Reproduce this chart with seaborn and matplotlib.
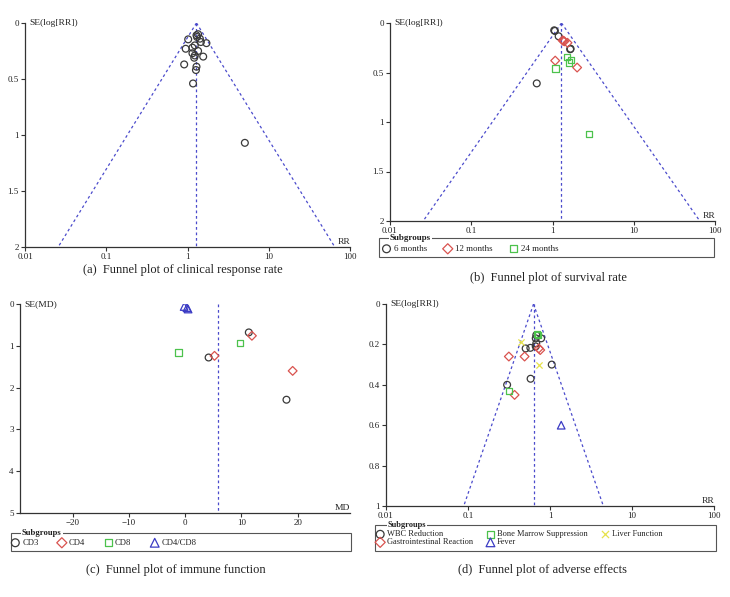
import matplotlib
matplotlib.use("Agg")
import matplotlib.pyplot as plt
import seaborn as sns
import numpy as np
from matplotlib.patches import Rectangle

# ---------------- data ----------------
# (a) clinical response rate
a_rr = [1.02, 1.29, 1.31, 1.35, 1.42, 1.46, 1.71, 0.95, 1.15, 1.23, 1.35, 1.15,
        1.23, 1.21, 1.56, 0.91, 1.29, 1.27, 1.17, 5.08]
a_se = [0.146, 0.11, 0.125, 0.10, 0.14, 0.17, 0.18, 0.23, 0.22, 0.20, 0.25, 0.27,
        0.29, 0.31, 0.30, 0.37, 0.39, 0.42, 0.54, 1.07]
a_pooled = 1.29

# (b) survival rate
b_labels = ["6 months", "12 months", "24 months"]
b_6_rr = [1.05, 1.07, 1.19, 1.67, 1.65, 0.64]
b_6_se = [0.074, 0.08, 0.134, 0.26, 0.265, 0.61]
b_12_rr = [1.33, 1.36, 1.40, 1.53, 1.08, 2.01]
b_12_se = [0.175, 0.18, 0.185, 0.20, 0.38, 0.45]
b_24_rr = [1.52, 1.68, 1.60, 1.09, 2.80]
b_24_se = [0.34, 0.37, 0.40, 0.46, 1.12]
b_pooled = 1.29

# (c) immune function
c_labels = ["CD3", "CD4", "CD8", "CD4/CD8"]
c_cd3_md = [4.15, 11.3, 18.0]
c_cd3_se = [1.28, 0.68, 2.29]
c_cd4_md = [5.2, 11.85, 19.1]
c_cd4_se = [1.24, 0.76, 1.60]
c_cd8_md = [-1.2, 9.7]
c_cd8_se = [1.16, 0.94]
c_ratio_md = [-0.2, 0.3, 0.5]
c_ratio_se = [0.06, 0.09, 0.12]
c_pooled = 5.9

# (d) adverse effects
d_labels = ["WBC Reduction", "Gastrointestinal Reaction", "Bone Marrow Suppression",
            "Fever", "Liver Function"]
d_wbc_rr = [0.68, 0.78, 0.67, 0.68, 0.505, 0.576, 0.67, 1.05, 0.58, 0.30]
d_wbc_se = [0.154, 0.17, 0.17, 0.195, 0.22, 0.217, 0.21, 0.30, 0.37, 0.40]
d_gi_rr = [0.73, 0.76, 0.315, 0.49, 0.37]
d_gi_se = [0.22, 0.228, 0.26, 0.26, 0.45]
d_bms_rr = [0.69, 0.71, 0.315]
d_bms_se = [0.148, 0.155, 0.43]
d_fever_rr = [1.37]
d_fever_se = [0.60]
d_liver_rr = [0.44, 0.73]
d_liver_se = [0.187, 0.30]
d_pooled = 0.63

log_ticks = [0.01, 0.1, 1, 10, 100]
log_ticklabels = ["0.01", "0.1", "1", "10", "100"]
a_yticks = [0, 0.5, 1, 1.5, 2]
a_yticklabels = ["0", "0.5", "1", "1.5", "2"]
c_xticks = [-20, -10, 0, 10, 20]
c_xticklabels = ["\u221220", "\u221210", "0", "10", "20"]
c_yticks = [0, 1, 2, 3, 4, 5]
c_yticklabels = ["0", "1", "2", "3", "4", "5"]
d_yticks = [0, 0.2, 0.4, 0.6, 0.8, 1]
d_yticklabels = ["0", "0.2", "0.4", "0.6", "0.8", "1"]

# ---------------- style ----------------
sns.set_style("ticks")
plt.rcParams["font.family"] = ["Liberation Serif", "DejaVu Serif"]

W, H = 730, 597
fig = plt.figure(figsize=(W / 100, H / 100), dpi=100)


def fx(x):
    return x / W


def fy(y):
    return 1 - y / H


def make_ax(l, t, r, b):
    return fig.add_axes([fx(l), fy(b), fx(r) - fx(l), fy(t) - fy(b)])


BLACK = "#3a3a3a"
RED = "#d9534f"
GREEN = "#4cc24c"
BLUE = "#3b3bc4"
YELLOW = "#e6e24a"
LINE = "#4b4bcc"
DASH = (0, (2.2, 2.2))


def style_ax(ax, ylabel, xlabel, fs=6.5):
    sns.despine(ax=ax)
    for s in ["left", "bottom"]:
        ax.spines[s].set_color("#333333")
        ax.spines[s].set_linewidth(0.9)
    ax.tick_params(axis="both", length=3, width=0.8, color="#333333",
                   labelsize=fs, pad=1.5, colors="#222222")
    ax.text(0.012, 1.0, ylabel, transform=ax.transAxes, ha="left", va="center",
            fontsize=fs + 0.3, color="#222222")
    ax.text(1.0, 0.004, xlabel, transform=ax.transAxes, ha="right", va="bottom",
            fontsize=fs + 0.3, color="#222222")


def scatter(ax, x, y, marker, color, label, s=24):
    if marker == "x":
        sns.scatterplot(x=x, y=y, ax=ax, marker=marker, s=s, color=color,
                        linewidth=0.9, legend=False, label=label, zorder=3)
    else:
        sns.scatterplot(x=x, y=y, ax=ax, marker=marker, s=s, facecolor="none",
                        edgecolor=color, linewidth=0.9, legend=False,
                        label=label, zorder=3)


def funnel_lines(ax, pooled, semax):
    se = np.array([0.0, semax])
    lo = np.exp(np.log(pooled) - 1.96 * se)
    hi = np.exp(np.log(pooled) + 1.96 * se)
    ax.plot(lo, se, color=LINE, lw=0.9, ls=DASH, zorder=2)
    ax.plot(hi, se, color=LINE, lw=0.9, ls=DASH, zorder=2)
    ax.plot([pooled, pooled], se, color=LINE, lw=0.9, ls=DASH, zorder=2)


def legend_box(ax, l, t, r, b, title_x, entry_x, entry_y, ncol, fs,
               colsp=1.8):
    fig.patches.append(Rectangle((fx(l), fy(b)), fx(r) - fx(l), fy(t) - fy(b),
                                 transform=fig.transFigure, fill=False,
                                 edgecolor="#555555", lw=0.8))
    fig.text(fx(title_x), fy(t), "Subgroups", ha="left", va="center",
             fontsize=fs, fontweight="bold", color="#222222",
             bbox=dict(facecolor="white", edgecolor="none", pad=0.6))
    handles, labels = ax.get_legend_handles_labels()
    leg = fig.legend(handles, labels, loc="center left",
                     bbox_to_anchor=(fx(entry_x), fy(entry_y)), ncol=ncol,
                     frameon=False, fontsize=fs, handletextpad=0.3,
                     columnspacing=colsp, borderaxespad=0, borderpad=0,
                     handlelength=1.0, labelspacing=0.0, markerscale=1.15)
    for t_ in leg.get_texts():
        t_.set_color("#222222")


# ---------------- (a) ----------------
axa = make_ax(25, 23, 350, 247)
scatter(axa, a_rr, a_se, "o", BLACK, None)
funnel_lines(axa, a_pooled, 2.0)
axa.set_xscale("log")
axa.set_xlim(0.01, 100)
axa.set_ylim(2, 0)
axa.set_xticks(log_ticks, log_ticklabels)
axa.set_yticks(a_yticks, a_yticklabels)
axa.minorticks_off()
style_ax(axa, "SE(log[RR])", "RR")
fig.text(fx(183), fy(270), "(a)  Funnel plot of clinical response rate",
         ha="center", va="center", fontsize=9, color="#222222")

# ---------------- (b) ----------------
axb = make_ax(390, 23, 715, 221)
scatter(axb, b_6_rr, b_6_se, "o", BLACK, b_labels[0])
scatter(axb, b_12_rr, b_12_se, "D", RED, b_labels[1], s=20)
scatter(axb, b_24_rr, b_24_se, "s", GREEN, b_labels[2], s=20)
funnel_lines(axb, b_pooled, 2.0)
axb.set_xscale("log")
axb.set_xlim(0.01, 100)
axb.set_ylim(2, 0)
axb.set_xticks(log_ticks, log_ticklabels)
axb.set_yticks(a_yticks, a_yticklabels)
axb.minorticks_off()
style_ax(axb, "SE(log[RR])", "RR")
legend_box(axb, 379, 238, 714, 257, 390, 382, 249, 3, 6.5)
fig.text(fx(548), fy(278), "(b)  Funnel plot of survival rate",
         ha="center", va="center", fontsize=9, color="#222222")

# ---------------- (c) ----------------
axc = make_ax(20, 304, 350, 513)
scatter(axc, c_cd3_md, c_cd3_se, "o", BLACK, c_labels[0])
scatter(axc, c_cd4_md, c_cd4_se, "D", RED, c_labels[1], s=20)
scatter(axc, c_cd8_md, c_cd8_se, "s", GREEN, c_labels[2], s=20)
scatter(axc, c_ratio_md, c_ratio_se, "^", BLUE, c_labels[3], s=30)
axc.plot([c_pooled, c_pooled], [0, 5], color=LINE, lw=0.9, ls=DASH, zorder=2)
axc.set_xlim(-29.4, 29.3)
axc.set_ylim(5, 0)
axc.set_xticks(c_xticks, c_xticklabels)
axc.set_yticks(c_yticks, c_yticklabels)
style_ax(axc, "SE(MD)", "MD")
legend_box(axc, 11, 533, 351, 551, 22, 11, 543, 4, 6.2, colsp=2.2)
fig.text(fx(176), fy(570), "(c)  Funnel plot of immune function",
         ha="center", va="center", fontsize=9, color="#222222")

# ---------------- (d) ----------------
axd = make_ax(386, 304, 714, 506)
scatter(axd, d_wbc_rr, d_wbc_se, "o", BLACK, d_labels[0])
scatter(axd, d_gi_rr, d_gi_se, "D", RED, d_labels[1], s=20)
scatter(axd, d_bms_rr, d_bms_se, "s", GREEN, d_labels[2], s=20)
scatter(axd, d_fever_rr, d_fever_se, "^", BLUE, d_labels[3], s=30)
scatter(axd, d_liver_rr, d_liver_se, "x", YELLOW, d_labels[4], s=20)
funnel_lines(axd, d_pooled, 1.0)
axd.set_xscale("log")
axd.set_xlim(0.01, 100)
axd.set_ylim(1, 0)
axd.set_xticks(log_ticks, log_ticklabels)
axd.set_yticks(d_yticks, d_yticklabels)
axd.minorticks_off()
style_ax(axd, "SE(log[RR])", "RR")
legend_box(axd, 375, 525, 716, 551, 388, 376, 538.5, 3, 6.0, colsp=1.6)
fig.text(fx(542), fy(570), "(d)  Funnel plot of adverse effects",
         ha="center", va="center", fontsize=9, color="#222222")

fig.savefig("out.png", dpi=100, facecolor="white")
